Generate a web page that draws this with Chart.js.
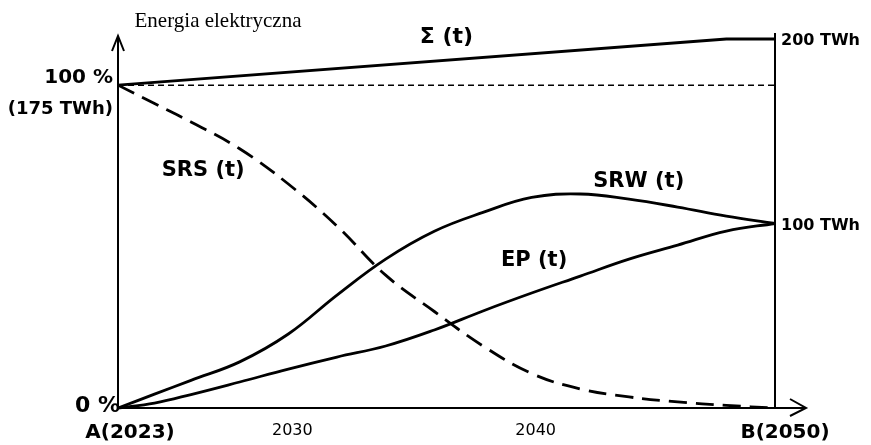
<!DOCTYPE html>
<html>
<head>
<meta charset="utf-8">
<script src="https://cdn.jsdelivr.net/npm/chart.js@4.4.0/dist/chart.umd.min.js"></script>
<style>
  html, body { margin: 0; padding: 0; background: #fff; }
  #wrap { width: 871px; height: 445px; }
</style>
</head>
<body>
<div id="wrap"><canvas id="chart" width="871" height="445"></canvas></div>
<script>
// years along the time axis (A = 2023, B = 2050)
var years = [2023, 2024.5, 2026, 2028, 2030, 2032, 2034, 2036, 2038, 2040, 2042, 2044, 2046, 2048, 2050];
// energy in TWh
var srsValues = [175, 165, 155, 140.5, 121.4, 98.6, 72, 52.3, 33.6, 18.7, 10.3, 6, 3.3, 1.4, 0];
var srwValues = [0, 7.5, 15, 25, 40.1, 61.2, 80.7, 95.8, 106, 114.1, 116, 113.2, 108.9, 104, 100];
var epValues = [0, 2.7, 7.3, 14.1, 21.1, 27.6, 33.6, 42.3, 52.6, 62.3, 71.5, 80.7, 88.3, 95.9, 100];
var sumYears = [2023, 2048, 2050];
var sumValues = [175, 200, 200];
var refYears = [2023, 2050];
var refValues = [175, 175];

// tick labels
var xTickYears = [2023, 2030, 2040, 2050];
var xTickLabels = ['A(2023)', '2030', '2040', 'B(2050)'];
var leftTickValues = [175, 0];
var leftTickLabels = ['100 %', '0 %'];
var leftSubLabel = '(175 TWh)';
var rightTickValues = [200, 100];
var rightTickLabels = ['200 TWh', '100 TWh'];
var axisTitle = 'Energia elektryczna';

// curve names and where they are written (year, TWh)
var seriesNames = ['\u03A3 (t)', 'SRS (t)', 'SRW (t)', 'EP (t)'];
var seriesNameYears = [2036.5, 2026.5, 2044.4, 2040.1];
var seriesNameValues = [201, 128.5, 122.5, 79.7];

function toPoints(xs, ys) {
    return xs.map(function(x, i) { return { x: x, y: ys[i] }; });
}

// axes, arrows and all the writing
var sketchPlugin = {
    id: 'sketch',
    beforeDatasetsDraw: function(chart) {
        var ctx = chart.ctx;
        var xs = chart.scales.x, ys = chart.scales.y;
        var x0 = xs.getPixelForValue(2023), x1 = xs.getPixelForValue(2050);
        var y0 = ys.getPixelForValue(0), yTop = ys.getPixelForValue(200);
        ctx.save();
        ctx.strokeStyle = '#000';
        ctx.lineWidth = 2;
        ctx.lineCap = 'butt';
        ctx.beginPath();
        // y axis with arrow
        ctx.moveTo(x0, y0);
        ctx.lineTo(x0, yTop - 3);
        ctx.moveTo(x0 - 6, yTop + 12);
        ctx.lineTo(x0, yTop - 3);
        ctx.lineTo(x0 + 6, yTop + 12);
        // x axis with arrow
        ctx.moveTo(x0, y0);
        ctx.lineTo(x1 + 31, y0);
        ctx.moveTo(x1 + 15, y0 - 9);
        ctx.lineTo(x1 + 31, y0);
        ctx.lineTo(x1 + 15, y0 + 8);
        // right boundary
        ctx.moveTo(x1, yTop - 6);
        ctx.lineTo(x1, y0);
        ctx.stroke();
        ctx.restore();
    },
    afterDatasetsDraw: function(chart) {
        var ctx = chart.ctx;
        var xs = chart.scales.x, ys = chart.scales.y;
        var x0 = xs.getPixelForValue(2023), x1 = xs.getPixelForValue(2050);
        var y0 = ys.getPixelForValue(0);
        ctx.save();
        ctx.fillStyle = '#000';
        ctx.textBaseline = 'middle';

        // title of the vertical axis
        ctx.font = '21px "Liberation Serif"';
        ctx.textAlign = 'center';
        ctx.fillText(axisTitle, x0 + 100, 21);

        // left ticks
        ctx.textAlign = 'right';
        leftTickValues.forEach(function(v, i) {
            var y = ys.getPixelForValue(v);
            if (v === 0) {
                ctx.font = 'bold 22px "DejaVu Sans"';
                ctx.fillText(leftTickLabels[i], x0 + 2, y - 2);
            } else {
                ctx.font = 'bold 20px "DejaVu Sans"';
                ctx.fillText(leftTickLabels[i], x0 - 5, y - 7);
            }
        });
        ctx.font = 'bold 18px "DejaVu Sans"';
        ctx.fillText(leftSubLabel, x0 - 5, ys.getPixelForValue(175) + 24);

        // right ticks
        ctx.font = 'bold 16px "DejaVu Sans"';
        ctx.textAlign = 'left';
        rightTickValues.forEach(function(v, i) {
            ctx.fillText(rightTickLabels[i], x1 + 6, ys.getPixelForValue(v) + 2);
        });

        // time ticks
        xTickYears.forEach(function(yr, i) {
            var px = xs.getPixelForValue(yr);
            ctx.textAlign = 'center';
            if (i === 0 || i === xTickYears.length - 1) {
                ctx.font = 'bold 20px "DejaVu Sans"';
                ctx.fillText(xTickLabels[i], px + (i === 0 ? 12 : 10), y0 + 25);
            } else {
                ctx.font = '16px "DejaVu Sans"';
                ctx.fillText(xTickLabels[i], px + 4, y0 + 23);
            }
        });

        // curve names
        ctx.textAlign = 'center';
        seriesNames.forEach(function(name, i) {
            ctx.font = i === 0 ? 'bold 22px "DejaVu Sans"' : 'bold 21px "DejaVu Sans"';
            ctx.fillText(name, xs.getPixelForValue(seriesNameYears[i]), ys.getPixelForValue(seriesNameValues[i]));
        });
        ctx.restore();
    }
};

var ctx = document.getElementById('chart').getContext('2d');
var sketchChart = new Chart(ctx, {
    type: 'line',
    data: {
        datasets: [{
            label: 'Sigma',
            data: toPoints(sumYears, sumValues),
            borderColor: '#000',
            borderWidth: 2.8,
            tension: 0
        }, {
            label: '100 %',
            data: toPoints(refYears, refValues),
            borderColor: '#000',
            borderWidth: 1.5,
            borderDash: [6, 4],
            tension: 0
        }, {
            label: 'SRS',
            data: toPoints(years, srsValues),
            borderColor: '#000',
            borderWidth: 2.8,
            borderDash: [18, 9],
            tension: 0.4
        }, {
            label: 'SRW',
            data: toPoints(years, srwValues),
            borderColor: '#000',
            borderWidth: 2.8,
            tension: 0.4
        }, {
            label: 'EP',
            data: toPoints(years, epValues),
            borderColor: '#000',
            borderWidth: 2.8,
            tension: 0.4
        }]
    },
    options: {
        responsive: false,
        animation: false,
        events: [],
        clip: false,
        layout: { padding: { left: 118, right: 96, top: 39, bottom: 37 } },
        elements: { point: { radius: 0 } },
        plugins: { legend: { display: false }, tooltip: { enabled: false } },
        scales: {
            x: { type: 'linear', min: 2023, max: 2050, display: false },
            y: { type: 'linear', min: 0, max: 200, display: false }
        }
    },
    plugins: [sketchPlugin]
});
</script>
</body>
</html>
